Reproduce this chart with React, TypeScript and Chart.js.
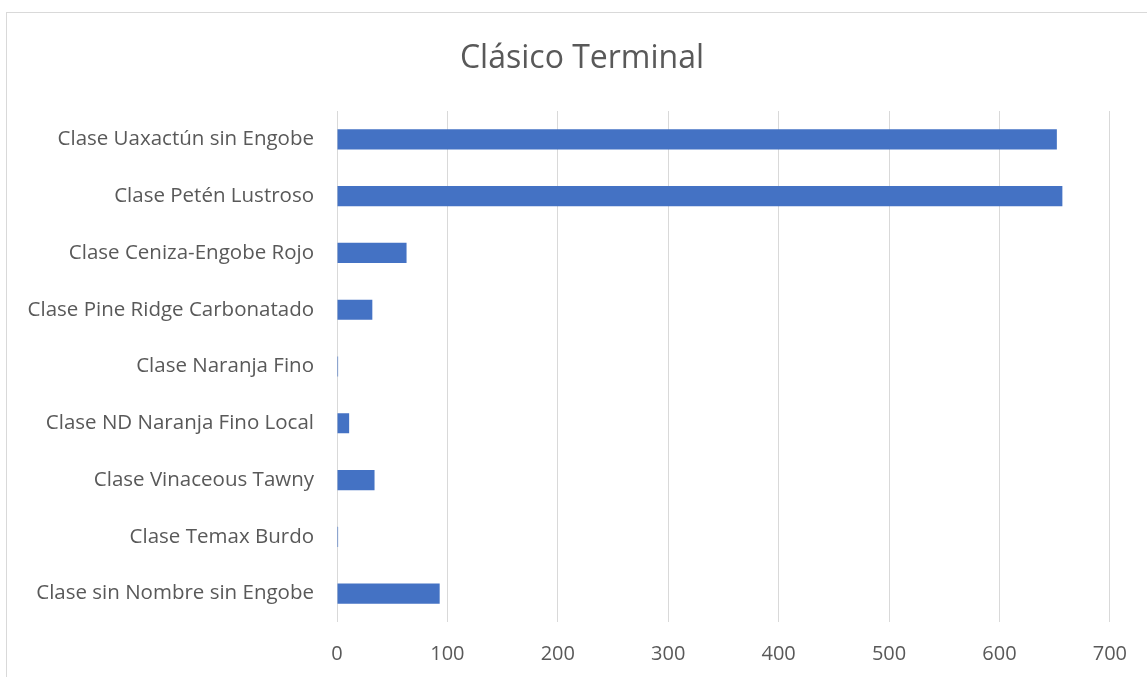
import React, { useEffect, useRef } from "react";
import { Chart, registerables } from "chart.js";

Chart.register(...registerables);

const title = "Clásico Terminal";
const categories = [
  "Clase Uaxactún sin Engobe",
  "Clase Petén Lustroso",
  "Clase Ceniza-Engobe Rojo",
  "Clase Pine Ridge Carbonatado",
  "Clase Naranja Fino",
  "Clase ND Naranja Fino Local",
  "Clase Vinaceous Tawny",
  "Clase Temax Burdo",
  "Clase sin Nombre sin Engobe",
];
const values = [652, 657, 63, 32, 1, 11, 34, 1, 93];
const xMin = 0;
const xMax = 700;
const xStep = 100;

const FONT = "'Open Sans', 'Noto Sans', sans-serif";
const TEXT = "#595959";
const GRID = "#d9d9d9";

const borderPlugin = {
  id: "outerBorder",
  beforeDraw(chart: any) {
    const ctx = chart.ctx;
    ctx.save();
    ctx.fillStyle = "#ffffff";
    ctx.fillRect(0, 0, chart.width, chart.height);
    ctx.strokeStyle = GRID;
    ctx.lineWidth = 1;
    ctx.strokeRect(6.5, 12.5, chart.width + 50, chart.height + 50);
    ctx.restore();
  },
};

export default function App() {
  const ref = useRef<HTMLCanvasElement>(null);
  useEffect(() => {
    if (!ref.current) return;
    const chart = new Chart(ref.current, {
      type: "bar",
      data: {
        labels: categories,
        datasets: [
          {
            data: values,
            backgroundColor: "#4472C4",
            borderWidth: 0,
            categoryPercentage: 1,
            barPercentage: 0.355,
          },
        ],
      },
      plugins: [borderPlugin],
      options: {
        indexAxis: "y",
        animation: false,
        responsive: false,
        devicePixelRatio: 1,
        layout: { padding: { left: 0, right: 36, top: 111, bottom: 0 } },
        plugins: {
          legend: { display: false },
          tooltip: { enabled: false },
          title: { display: false },
        },
        scales: {
          x: {
            min: xMin,
            max: xMax,
            ticks: {
              stepSize: xStep,
              color: TEXT,
              font: { family: FONT, size: 20 },
              padding: 20,
            },
            grid: { color: GRID, lineWidth: 1, drawTicks: false },
            border: { display: false },
            afterFit(scale: any) {
              scale.height = 55;
            },
          },
          y: {
            ticks: {
              color: TEXT,
              font: { family: FONT, size: 20.5 },
              padding: 23,
              autoSkip: false,
            },
            grid: { display: false, drawTicks: false },
            border: { display: false },
            afterFit(scale: any) {
              scale.width = 337;
            },
          },
        },
      },
    });
    return () => chart.destroy();
  }, []);
  return (
    <div style={{ position: "fixed", left: 0, top: 0, width: 1147, height: 677, background: "#fff" }}>
      <canvas ref={ref} width={1147} height={677} style={{ width: 1147, height: 677, display: "block" }} />
      <div
        style={{
          position: "absolute",
          left: 0,
          width: 1164,
          top: 36,
          height: 40,
          lineHeight: "40px",
          textAlign: "center",
          fontFamily: FONT,
          fontSize: 32,
          color: TEXT,
          whiteSpace: "nowrap",
        }}
      >
        {title}
      </div>
    </div>
  );
}
